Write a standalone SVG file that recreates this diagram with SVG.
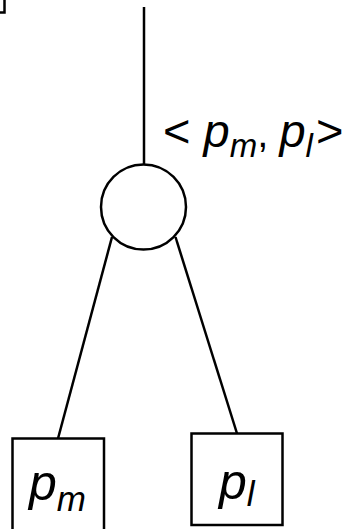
<svg xmlns="http://www.w3.org/2000/svg" width="345" height="529" viewBox="0 0 345 529">
<style>
.s{fill:none;stroke:#000;stroke-width:2.5}
.n{fill:#fff;stroke:#000;stroke-width:2.5}
text{font-family:"Liberation Sans",Arial,sans-serif;fill:#000}
.i{font-style:italic}
</style>
<g id="corner"><rect class="n" x="-10" y="-10" width="14.5" height="22.5"/></g>
<g id="connectors">
<line class="s" x1="144" y1="7" x2="144" y2="164.5"/>
<line class="s" x1="112" y1="237" x2="58" y2="438.5"/>
<line class="s" x1="175.5" y1="237" x2="237" y2="433.5"/>
</g>
<g id="label"><text x="163" y="147" font-size="47">&lt; <tspan class="i">p</tspan><tspan class="i" font-size="33" dy="10">m</tspan><tspan font-size="40" dy="-10">, </tspan><tspan class="i">p</tspan><tspan class="i" font-size="33" dy="10">l</tspan><tspan dy="-10" dx="3">&gt;</tspan></text></g>
<g id="join"><circle class="n" cx="143.5" cy="207" r="42.5"/></g>
<g id="pm"><rect class="n" x="12.5" y="438.5" width="91.5" height="100"/><text x="29" y="500" font-size="50"><tspan class="i">p</tspan><tspan class="i" font-size="35" dy="11">m</tspan></text></g>
<g id="pl"><rect class="n" x="191.5" y="433.5" width="91" height="91.5"/><text x="219" y="499" font-size="50"><tspan class="i">p</tspan><tspan class="i" font-size="35" dy="7">l</tspan></text></g>
</svg>
